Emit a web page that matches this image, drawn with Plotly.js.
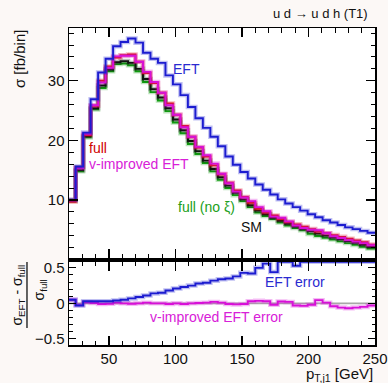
<!DOCTYPE html>
<html><head><meta charset="utf-8">
<script src="https://cdn.plot.ly/plotly-3.0.1.min.js"></script>
<style>html,body{margin:0;padding:0;background:#fcf8f6}</style>
</head><body><div id="chart" style="width:388px;height:383px"></div>
<script>
// bin edges in p_T,j1 [GeV] (first bin clipped at the axis start)
const ptEdges = [20, 25, 30.625, 36.25, 41.875, 47.5, 53.125, 58.75, 64.375, 70, 75.625,
  81.25, 86.875, 92.5, 98.125, 103.75, 109.375, 115, 120.625, 126.25, 131.875,
  137.5, 143.125, 148.75, 154.375, 160, 165.625, 171.25, 176.875, 182.5, 188.125,
  193.75, 199.375, 205, 210.625, 216.25, 221.875, 227.5, 233.125, 238.75, 244.375, 250];

// sigma [fb/bin]
const sigmaEFT = [10.0, 15.6, 21.3, 26.9, 31.4, 33.7, 35.8, 36.5, 37.1, 36.4, 34.7,
  33.7, 33.0, 30.9, 29.4, 27.6, 25.6, 23.7, 22.1, 20.6, 19.0, 17.3, 15.9, 14.7, 13.6,
  12.6, 11.7, 10.9, 10.1, 9.4, 8.8, 8.2, 7.6, 7.1, 6.6, 6.2, 5.8, 5.4, 5.1, 4.8, 4.5];
const sigmaFull = [9.7, 15.5, 20.9, 25.8, 30.0, 32.4, 33.9, 34.3, 34.4, 33.2, 31.3,
  29.6, 28.0, 26.2, 24.3, 22.4, 20.6, 18.8, 17.3, 15.8, 14.3, 12.9, 11.6, 10.5, 9.5,
  8.5, 7.9, 7.4, 6.8, 6.3, 5.9, 5.5, 5.1, 4.7, 4.4, 4.1, 3.8, 3.5, 3.2, 2.9, 2.5];
const sigmaVimp = [10.0, 15.3, 21.1, 25.9, 29.7, 32.2, 34.1, 34.2, 34.2, 33.2, 31.5,
  29.8, 28.0, 25.9, 24.3, 22.2, 20.6, 18.9, 17.5, 16.1, 14.4, 12.8, 11.4, 10.4, 9.8,
  8.8, 8.1, 7.2, 7.0, 6.4, 5.7, 5.3, 5.0, 4.9, 4.4, 3.9, 3.6, 3.25, 3.0, 2.75, 2.4];
const sigmaNoXi = [9.9, 14.8, 20.5, 25.2, 28.8, 31.6, 32.8, 32.9, 32.6, 31.6, 29.8,
  28.1, 26.7, 24.9, 23.0, 21.2, 19.4, 17.7, 16.2, 14.8, 13.4, 12.0, 10.8, 9.8, 8.8,
  7.9, 7.3, 6.8, 6.2, 5.7, 5.3, 4.9, 4.3, 3.95, 3.65, 3.35, 3.05, 2.75, 2.45, 2.15, 1.85];
const sigmaSM = [10.0, 15.0, 20.7, 25.4, 29.2, 31.9, 33.1, 33.3, 33.0, 32.0, 30.3,
  28.6, 27.2, 25.4, 23.5, 21.7, 19.9, 18.2, 16.6, 15.2, 13.8, 12.4, 11.2, 10.1, 9.1,
  8.2, 7.6, 7.0, 6.5, 6.0, 5.55, 5.15, 4.75, 4.35, 4.0, 3.7, 3.4, 3.1, 2.8, 2.45, 2.1];

// (sigma_EFT - sigma_full) / sigma_full, as drawn (top values sit at the frame)
const errEFT = [0.05, -0.03, 0.03, 0.03, 0.03, 0.03, 0.04, 0.05, 0.07, 0.09, 0.11,
  0.14, 0.15, 0.18, 0.21, 0.23, 0.25, 0.28, 0.29, 0.32, 0.34, 0.35, 0.38, 0.43, 0.42,
  0.50, 0.56, 0.44, 0.585, 0.585, 0.53, 0.585, 0.585, 0.585, 0.585, 0.585, 0.585, 0.585, 0.585, 0.585, 0.585];
const errVimp = [0.05, -0.025, 0.015, 0.005, -0.01, -0.005, 0.01, 0.0, -0.005, 0.0, 0.01,
  0.0, 0.0, -0.01, 0.0, -0.01, 0.0, 0.005, 0.01, 0.02, 0.01, -0.01, -0.015, -0.01, 0.03,
  0.035, 0.03, -0.02, 0.025, 0.02, -0.03, -0.035, -0.02, 0.045, 0.01, -0.04, -0.06, -0.07, -0.06, -0.05, -0.03];

const C = {eft:'#1c1cd0', full:'#d81010', vimp:'#d810d8', noxi:'#109a10', sm:'#111111', grey:'#a8a8a8'};

function stepY(v){ return v.concat([v[v.length-1]]); }
function hist(vals, color, xa, ya){
  return [
    {x: ptEdges, y: stepY(vals), xaxis: xa, yaxis: ya, mode: 'lines', opacity: 0.28,
     line: {shape: 'hv', color: color, width: 4.5}, hoverinfo: 'skip', showlegend: false},
    {x: ptEdges, y: stepY(vals), xaxis: xa, yaxis: ya, mode: 'lines',
     line: {shape: 'hv', color: color, width: 1.9}, showlegend: false}
  ];
}

const traces = [].concat(
  hist(sigmaNoXi, C.noxi, 'x', 'y'),
  hist(sigmaSM, C.sm, 'x', 'y'),
  hist(sigmaFull, C.full, 'x', 'y'),
  hist(sigmaVimp, C.vimp, 'x', 'y'),
  hist(sigmaEFT, C.eft, 'x', 'y'),
  hist(errVimp, C.vimp, 'x2', 'y2'),
  hist(errEFT, C.eft, 'x2', 'y2')
);

const FONT = 'Liberation Sans, Arial, Helvetica, sans-serif';
const tickFont = {family: FONT, size: 15, color: '#111'};
function axisBase(extra){
  return Object.assign({
    showline: true, linecolor: '#000', linewidth: 1.5, mirror: 'ticks',
    ticks: 'inside', ticklen: 9, tickwidth: 1.2, tickcolor: '#000',
    showgrid: false, zeroline: false, tickfont: tickFont, fixedrange: true
  }, extra);
}

const layout = {
  width: 388, height: 383,
  margin: {l: 69, r: 13, t: 28, b: 38},
  paper_bgcolor: '#fcf8f6', plot_bgcolor: '#ffffff',
  font: {family: FONT, size: 14, color: '#111'},
  showlegend: false,
  xaxis: axisBase({domain: [0, 1], range: [20, 250], anchor: 'y', showticklabels: false,
    tick0: 0, dtick: 50, minor: {ticks: 'inside', dtick: 10, ticklen: 4.5, tickcolor: '#000', tickwidth: 1}}),
  yaxis: axisBase({domain: [0.2744, 1], range: [0.25, 38.86], anchor: 'x',
    tickvals: [10, 20, 30], minor: {ticks: 'inside', dtick: 2, tick0: 0, ticklen: 4.5, tickcolor: '#000', tickwidth: 1}}),
  xaxis2: axisBase({domain: [0, 1], range: [20, 250], anchor: 'y2', ticklabelstandoff: -1,
    tickvals: [50, 100, 150, 200, 250], minor: {ticks: 'inside', dtick: 10, tick0: 0, ticklen: 4.5, tickcolor: '#000', tickwidth: 1}}),
  yaxis2: axisBase({domain: [0, 0.2628], range: [-0.587, 0.587], anchor: 'x2',
    tickvals: [-0.5, 0, 0.5], ticktext: ['\u22120.5', '0', '0.5'], ticklen: 7,
    minor: {ticks: 'inside', dtick: 0.1, tick0: 0, ticklen: 3.5, tickcolor: '#000', tickwidth: 1}}),
  shapes: [
    {type: 'line', xref: 'x2', yref: 'y2', x0: 20, x1: 250, y0: 0, y1: 0, layer: 'below',
     line: {color: C.grey, width: 1.6}},
    {type: 'line', xref: 'paper', yref: 'paper', x0: -0.1373, x1: -0.1373, y0: 0.0536, y1: 0.2618,
     line: {color: '#111', width: 1.3}}
  ],
  annotations: [
    {text: 'u d \u2192 u d h (T1)', xref: 'paper', yref: 'paper', x: 0.9837, y: 1.0457,
     xanchor: 'right', yanchor: 'middle', showarrow: false, font: {size: 13, color: '#111'}},
    {text: 'EFT', xref: 'paper', yref: 'paper', x: 0.333, y: 0.8707, xanchor: 'left', yanchor: 'middle',
     showarrow: false, font: {size: 14, color: '#2a2ad0'}},
    {text: 'full', xref: 'paper', yref: 'paper', x: 0.0588, y: 0.6215, xanchor: 'left', yanchor: 'middle',
     showarrow: false, font: {size: 14, color: '#d00000'}},
    {text: 'v-improved EFT', xref: 'paper', yref: 'paper', x: 0.0588, y: 0.571, xanchor: 'left', yanchor: 'middle',
     showarrow: false, font: {size: 14, color: '#d820d8'}},
    {text: 'full (no \u03be)', xref: 'paper', yref: 'paper', x: 0.3497, y: 0.4338, xanchor: 'left', yanchor: 'middle',
     showarrow: false, font: {size: 14, color: '#20a020'}},
    {text: 'SM', xref: 'paper', yref: 'paper', x: 0.5556, y: 0.3722, xanchor: 'left', yanchor: 'middle',
     showarrow: false, font: {size: 14, color: '#111'}},
    {text: 'EFT error', xref: 'paper', yref: 'paper', x: 0.634, y: 0.2003, xanchor: 'left', yanchor: 'middle',
     showarrow: false, font: {size: 14, color: '#2a2ad0'}},
    {text: 'v-improved EFT error', xref: 'paper', yref: 'paper', x: 0.2582, y: 0.0883, xanchor: 'left', yanchor: 'middle',
     showarrow: false, font: {size: 14, color: '#d820d8'}},
    {text: 'p<sub>T,j1</sub> [GeV]', xref: 'paper', yref: 'paper', x: 1.0, y: -0.094, xanchor: 'right', yanchor: 'middle',
     showarrow: false, font: {size: 15, color: '#111'}},
    {text: '\u03c3 [fb/bin]', xref: 'paper', yref: 'paper', x: -0.1634, y: 0.902, xanchor: 'center', yanchor: 'middle',
     textangle: -90, showarrow: false, font: {size: 15, color: '#111'}},
    {text: '\u03c3<sub>EFT</sub> - \u03c3<sub>full</sub>', xref: 'paper', yref: 'paper', x: -0.168, y: 0.1577,
     xanchor: 'center', yanchor: 'middle', textangle: -90, showarrow: false, font: {size: 14, color: '#111'}},
    {text: '\u03c3<sub>full</sub>', xref: 'paper', yref: 'paper', x: -0.095, y: 0.175,
     xanchor: 'center', yanchor: 'middle', textangle: -90, showarrow: false, font: {size: 14, color: '#111'}}
  ]
};

Plotly.newPlot('chart', traces, layout, {displayModeBar: false, staticPlot: true});
</script></body></html>
